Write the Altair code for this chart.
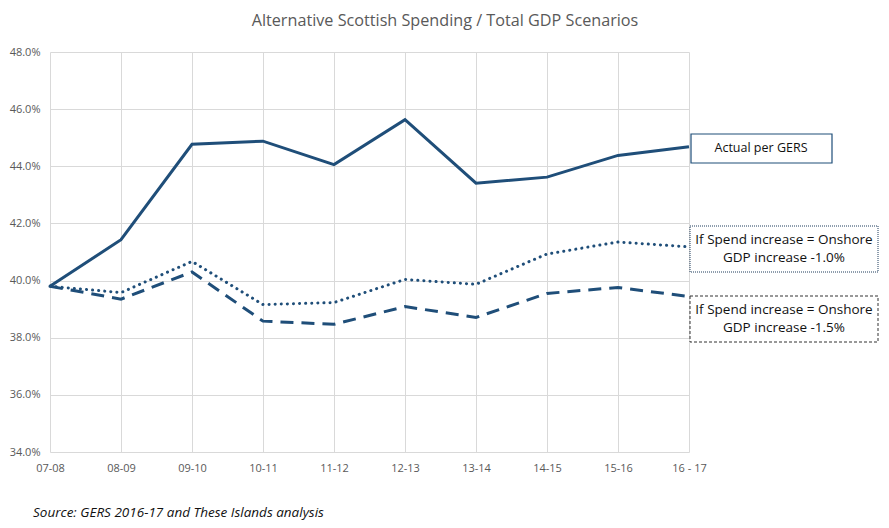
import altair as alt
import pandas as pd

years = ["07-08", "08-09", "09-10", "10-11", "11-12", "12-13", "13-14", "14-15", "15-16", "16 - 17"]
actual = [39.8, 41.43, 44.77, 44.88, 44.06, 45.63, 43.41, 43.62, 44.38, 44.68]
minus_1_0 = [39.8, 39.58, 40.67, 39.16, 39.23, 40.04, 39.87, 40.93, 41.35, 41.18]
minus_1_5 = [39.8, 39.35, 40.30, 38.58, 38.47, 39.09, 38.71, 39.55, 39.76, 39.44]
series_names = ["Actual per GERS", "If Spend increase = Onshore GDP increase -1.0%",
                "If Spend increase = Onshore GDP increase -1.5%"]

rows = []
for name, vals in zip(series_names, [actual, minus_1_0, minus_1_5]):
    for y, v in zip(years, vals):
        rows.append({"year": y, "value": v / 100, "series": name})
df = pd.DataFrame(rows)

FONT = "Open Sans"
BLUE = "#1f4e79"
GRAY = "#595959"

W, H = 639, 400

x = alt.X("year:O", sort=years, title=None,
          scale=alt.Scale(type="point", padding=0),
          axis=alt.Axis(labelAngle=0, labelColor=GRAY, labelFontSize=11, labelFont=FONT,
                        ticks=False, domain=False, grid=True, gridColor="#d9d9d9",
                        labelPadding=10))
y = alt.Y("value:Q", title=None,
          scale=alt.Scale(domain=[0.34, 0.48], nice=False, zero=False),
          axis=alt.Axis(format=".1%", values=[0.34, 0.36, 0.38, 0.40, 0.42, 0.44, 0.46, 0.48],
                        labelColor=GRAY, labelFontSize=11, labelFont=FONT,
                        ticks=False, domain=False, grid=True, gridColor="#d9d9d9",
                        labelPadding=10))

base = alt.Chart(df)
solid = base.transform_filter(alt.datum.series == series_names[0]).mark_line(
    color=BLUE, strokeWidth=3).encode(x=x, y=y)
dotted = base.transform_filter(alt.datum.series == series_names[1]).mark_line(
    color=BLUE, strokeWidth=3, strokeDash=[0.1, 6], strokeCap="round").encode(x=x, y=y)
dashed = base.transform_filter(alt.datum.series == series_names[2]).mark_line(
    color=BLUE, strokeWidth=3, strokeDash=[13, 8]).encode(x=x, y=y)

one = alt.Chart(pd.DataFrame({"a": [0]}))

box1 = one.mark_rect(fill="white", stroke=BLUE, strokeWidth=1.2).encode(
    x=alt.value(641), x2=alt.value(782), y=alt.value(82), y2=alt.value(111))
box2 = one.mark_rect(fill="white", stroke="#1f3d5c", strokeWidth=1, strokeDash=[1, 1]).encode(
    x=alt.value(640), x2=alt.value(828), y=alt.value(174), y2=alt.value(220))
box3 = one.mark_rect(fill="white", stroke="#333333", strokeWidth=1, strokeDash=[3, 2]).encode(
    x=alt.value(640), x2=alt.value(828), y=alt.value(244), y2=alt.value(290))

lbl1 = one.mark_text(font=FONT, fontSize=12.5, color="#111111", align="center", baseline="middle").encode(
    x=alt.value(711), y=alt.value(96), text=alt.value("Actual per GERS"))
lbl2 = one.mark_text(font=FONT, fontSize=13.5, color="#111111", align="center", baseline="middle",
                     lineHeight=18).encode(
    x=alt.value(734), y=alt.value(188),
    text=alt.value(["If Spend increase = Onshore", "GDP increase -1.0%"]))
lbl3 = one.mark_text(font=FONT, fontSize=13.5, color="#111111", align="center", baseline="middle",
                     lineHeight=18).encode(
    x=alt.value(734), y=alt.value(258),
    text=alt.value(["If Spend increase = Onshore", "GDP increase -1.5%"]))

title = one.mark_text(font=FONT, fontSize=16.2, color=GRAY, align="center", baseline="middle").encode(
    x=alt.value(395), y=alt.value(-31),
    text=alt.value("Alternative Scottish Spending / Total GDP Scenarios"))
source = one.mark_text(font=FONT, fontSize=13.5, fontStyle="italic", color="#111111",
                       align="left", baseline="middle").encode(
    x=alt.value(-17), y=alt.value(461),
    text=alt.value("Source: GERS 2016-17  and These Islands analysis"))

chart = alt.layer(solid, dotted, dashed, box1, box2, box3, lbl1, lbl2, lbl3, title, source).properties(
    width=W, height=H,
    autosize=alt.AutoSizeParams(type="none"),
    padding={"left": 42, "top": 44, "right": 192, "bottom": 68},
).configure_view(stroke=None)

chart.save("out.html", embed_options={"renderer": "svg", "actions": False})
